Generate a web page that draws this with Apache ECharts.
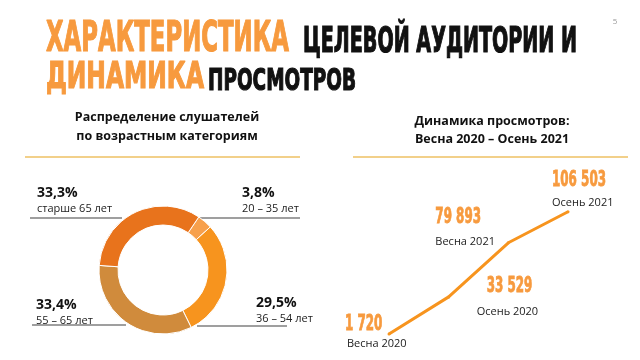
<!DOCTYPE html>
<html><head><meta charset="utf-8">
<script src="https://cdn.jsdelivr.net/npm/echarts@6/dist/echarts.min.js"></script>
<style>html,body{margin:0;padding:0;background:#fff}#c{width:640px;height:360px}</style>
</head><body><div id="c"></div>
<script>
// ---- data ----
const ageCategories = ['20 – 35 лет', '36 – 54 лет', '55 – 65 лет', 'старше 65 лет'];
const ageShares = [3.8, 29.5, 33.4, 33.3];
const seasons = ['Весна 2020', 'Осень 2020', 'Весна 2021', 'Осень 2021'];
const views = [1720, 33529, 79893, 106503];
const titleParts = [['ХАРАКТЕРИСТИКА', 'ЦЕЛЕВОЙ АУДИТОРИИ И'], ['ДИНАМИКА', 'ПРОСМОТРОВ']];
const leftSubtitle = ['Распределение слушателей', 'по возрастным категориям'];
const rightSubtitle = ['Динамика просмотров:', 'Весна 2020 – Осень 2021'];
const pageNumber = '5';

// ---- styles / layout ----
const ORANGE = '#F79A3E';
const COND = '"Liberation Sans Narrow","Arial Narrow","DejaVu Sans Condensed",sans-serif';
const BODY = '"Open Sans","Noto Sans",sans-serif';
const sliceColors = ['#F7A04C', '#F7941E', '#D08B3C', '#E8731C'];
const ctx = document.createElement('canvas').getContext('2d');
function fitScale(text, font, w) { ctx.font = font; return w / ctx.measureText(text).width; }
function fmt(v) { return String(v).replace(/\B(?=(\d{3})+(?!\d))/g, ' '); }

// title layout: [left, capCenterY, fontSize, targetWidth]
const titleLayout = [
  [[46, 40.5, 42, 243], [303, 42.5, 35, 274]],
  [[46, 78.5, 38, 158], [208, 82, 31, 148]]
];
const graphics = [];
titleParts.forEach((line, li) => line.forEach((txt, pi) => {
  const [x, y, fs, w] = titleLayout[li][pi];
  const font = 'bold ' + fs + 'px ' + COND;
  const col = pi === 0 ? ORANGE : '#111';
  graphics.push({type: 'text', x: x, y: y, scaleX: fitScale(txt, font, w), scaleY: 1,
    style: {text: txt, font: font, fill: col, stroke: col, lineWidth: 1.2, textAlign: 'left', textVerticalAlign: 'middle'}});
}));
graphics.push({type: 'text', x: 615, y: 22, style: {text: pageNumber, font: '8px ' + BODY, fill: '#999', textAlign: 'center', textVerticalAlign: 'middle'}});
leftSubtitle.forEach((t, i) => graphics.push({type: 'text', x: 167, y: 117 + i * 19,
  style: {text: t, font: 'bold 12.5px ' + BODY, fill: '#111', textAlign: 'center', textVerticalAlign: 'middle'}}));
rightSubtitle.forEach((t, i) => graphics.push({type: 'text', x: 492, y: 121 + i * 18,
  style: {text: t, font: 'bold 12.5px ' + BODY, fill: '#111', textAlign: 'center', textVerticalAlign: 'middle'}}));
graphics.push({type: 'line', shape: {x1: 25, y1: 157, x2: 300, y2: 157}, style: {stroke: '#F2D08A', lineWidth: 2}});
graphics.push({type: 'line', shape: {x1: 353, y1: 157, x2: 628, y2: 157}, style: {stroke: '#F2D08A', lineWidth: 2}});

// pie label placement: [left, top, lineY, lineX1, lineX2]
const pieLabelPos = [
  [242, 185, 218, 200, 300],
  [256, 295, 326, 197, 287],
  [36, 297, 325, 32, 126],
  [37, 185, 218, 30, 122]
];
// line label offsets relative to point: name [dx, dy(center)], value [dx, dy(cap center)]
const nameOffset = [[-42, 10], [28, 15], [-73, -1], [-16, -9]];
const valueOffset = [[-44, -9], [38, -10], [-73, -25], [-16, -31]];
const VALUE_FONT = 'bold 21px ' + COND;

const chart = echarts.init(document.getElementById('c'));
chart.setOption({
  animation: false,
  graphic: graphics,
  grid: {left: 389, right: 72, top: 196, bottom: 24},
  xAxis: {type: 'category', data: seasons, boundaryGap: false, show: false},
  yAxis: {type: 'value', min: 0, max: 120000, show: false},
  series: [
    {
      type: 'pie', center: [163, 270], radius: [45, 64], startAngle: 56, clockwise: true,
      avoidLabelOverlap: false,
      itemStyle: {borderColor: '#fff', borderWidth: 1},
      data: ageShares.map((v, i) => ({value: v, name: ageCategories[i], itemStyle: {color: sliceColors[i]}})),
      label: {
        show: true,
        formatter: p => '{p|' + String(p.value).replace('.', ',') + '%}\n{n|' + p.name + '}',
        rich: {
          p: {fontFamily: BODY, fontWeight: 'bold', fontSize: 14, lineHeight: 16, color: '#111'},
          n: {fontFamily: BODY, fontSize: 11, lineHeight: 15, color: '#222'}
        }
      },
      labelLine: {show: true, lineStyle: {color: '#7f7f7f', width: 1.5}},
      labelLayout: p => {
        const [x, y, ly, x1, x2] = pieLabelPos[p.dataIndex];
        return {x: x, y: y, align: 'left', verticalAlign: 'top',
          labelLinePoints: [[x1, ly], [(x1 + x2) / 2, ly], [x2, ly]]};
      }
    },
    {
      type: 'line',
      data: views.map((v, i) => ({value: v, label: {position: [nameOffset[i][0] + 1.5, nameOffset[i][1] + 1.5]}})),
      symbol: 'circle', symbolSize: 3, showSymbol: true,
      itemStyle: {color: '#F7941E'},
      lineStyle: {color: '#F7941E', width: 3},
      label: {
        show: true, align: 'left', verticalAlign: 'middle',
        formatter: p => seasons[p.dataIndex],
        fontFamily: BODY, fontSize: 11, color: '#222'
      }
    }
  ]
});
// value labels, positioned from the chart's own scales
const vScale = fitScale(fmt(views[3]), VALUE_FONT, 54);
const valueTexts = views.map((v, i) => {
  const pt = chart.convertToPixel({seriesIndex: 1}, [i, v]);
  return {type: 'text', x: pt[0] + valueOffset[i][0], y: pt[1] + valueOffset[i][1], scaleX: vScale, scaleY: 1,
    style: {text: fmt(v), font: VALUE_FONT, fill: ORANGE, stroke: ORANGE, lineWidth: 0.8, textAlign: 'left', textVerticalAlign: 'middle'}};
});
chart.setOption({graphic: graphics.concat(valueTexts)});
</script></body></html>
